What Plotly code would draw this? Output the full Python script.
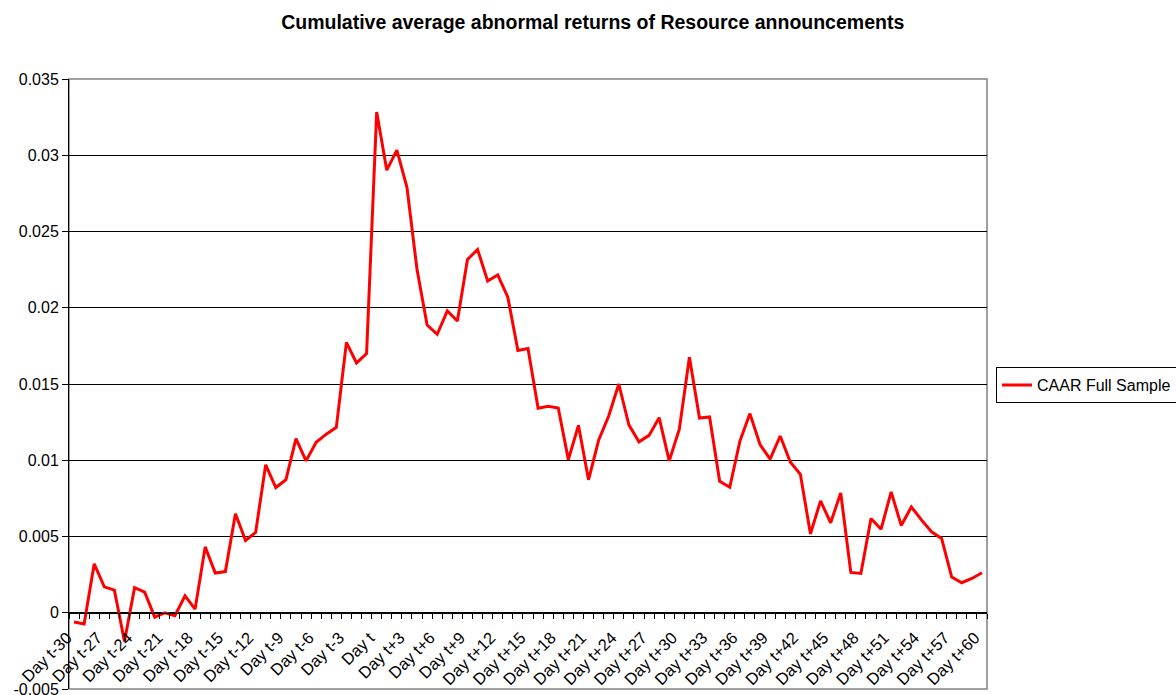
import plotly.graph_objects as go

days = [f"Day t{d:+d}" if d != 0 else "Day t" for d in range(-30, 61)]

caar = [
    -0.00061, -0.00074, 0.00321, 0.00170, 0.00148, -0.00188, 0.00164, 0.00135, -0.00029, 0.00000,
    -0.00019, 0.00111, 0.00024, 0.00432, 0.00260, 0.00270, 0.00649, 0.00474, 0.00527, 0.00970,
    0.00821, 0.00872, 0.01142, 0.00996, 0.01118, 0.01171, 0.01216, 0.01773, 0.01638, 0.01699,
    0.03283,
    0.02902, 0.03034, 0.02790, 0.02250, 0.01887, 0.01826, 0.01979, 0.01913, 0.02316, 0.02382,
    0.02175, 0.02215, 0.02069, 0.01720, 0.01733, 0.01341, 0.01354, 0.01343, 0.01004, 0.01229,
    0.00872, 0.01131, 0.01290, 0.01500, 0.01232, 0.01121, 0.01163, 0.01279, 0.00996, 0.01203,
    0.01675, 0.01277, 0.01284, 0.00862, 0.00823, 0.01124, 0.01306, 0.01103, 0.01007, 0.01159,
    0.00989, 0.00908, 0.00517, 0.00734, 0.00590, 0.00786, 0.00264, 0.00258, 0.00618, 0.00548,
    0.00793, 0.00572, 0.00694, 0.00609, 0.00531, 0.00487, 0.00234, 0.00197, 0.00225, 0.00262,
]

ytick_vals = [-0.005, 0, 0.005, 0.01, 0.015, 0.02, 0.025, 0.03, 0.035]
ytick_text = ["-0.005", "0", "0.005", "0.01", "0.015", "0.02", "0.025", "0.03", "0.035"]

xtick_text = [d if i % 3 == 0 else "" for i, d in enumerate(days)]

fig = go.Figure()
fig.add_trace(go.Scatter(
    x=days, y=caar, mode="lines", name="CAAR Full Sample",
    line=dict(color="#FF0000", width=3),
))

font = "Liberation Sans, Arial, sans-serif"
fig.update_layout(
    width=1176, height=695,
    margin=dict(l=69, r=189, t=79, b=6, autoexpand=False),
    paper_bgcolor="white", plot_bgcolor="white",
    font=dict(family=font, size=16, color="black"),
    title=dict(text="<b>Cumulative average abnormal returns of Resource announcements</b>",
               x=0.504, xref="container", xanchor="center",
               y=1 - 22 / 695, yref="container", yanchor="middle",
               font=dict(size=19.5, family=font)),
    showlegend=True,
    legend=dict(x=1.0098, y=0.498, xanchor="left", yanchor="middle",
                bordercolor="black", borderwidth=1, bgcolor="white",
                font=dict(size=16, family=font), itemwidth=30,
                tracegroupgap=0),
    xaxis=dict(
        type="category", range=[-0.5, len(days) - 0.5],
        tickmode="array", tickvals=days, ticktext=xtick_text,
        tickangle=-45, tickson="boundaries", ticks="outside", ticklen=5,
        tickcolor="black", showline=True, linecolor="black", linewidth=1,
        showgrid=False, anchor="free", position=0.125, automargin=False,
        tickfont=dict(size=16.5, family=font), ticklabeloverflow="allow",
        ticklabelstandoff=8, ticklabelshift=-7,
    ),
    yaxis=dict(
        range=[-0.005, 0.035], tickmode="array", tickvals=ytick_vals, ticktext=ytick_text,
        showgrid=True, gridcolor="black", gridwidth=1, zeroline=False,
        showline=True, linecolor="black", linewidth=1,
        ticks="outside", ticklen=6, tickcolor="black", automargin=False,
        tickfont=dict(size=16, family=font), ticklabeloverflow="allow",
    ),
    shapes=[dict(type="rect", xref="paper", yref="paper", x0=0, x1=1, y0=0, y1=1,
                 line=dict(color="#808080", width=1.5), layer="below")],
)

fig.write_html("out.html")
